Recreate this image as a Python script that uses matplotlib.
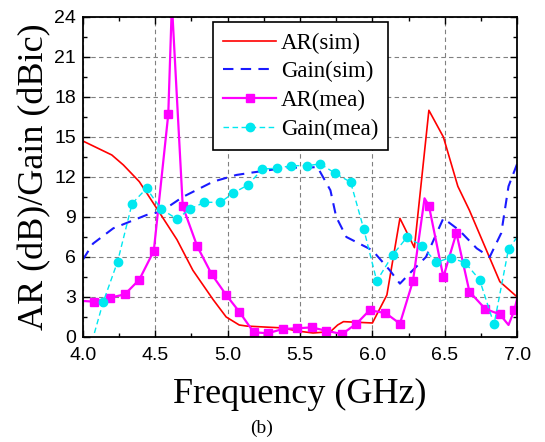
import numpy as np
import matplotlib
matplotlib.use("Agg")
import matplotlib.pyplot as plt
from matplotlib.ticker import MultipleLocator

# AR (sim), red solid
ar_sim_f = [4.0, 4.2, 4.28, 4.39, 4.54, 4.65, 4.76, 4.9, 4.99, 5.08, 5.13, 5.25, 5.38, 5.48, 5.59, 5.71, 5.76, 5.8, 6.0, 6.1, 6.19, 6.29, 6.39, 6.49, 6.59, 6.67, 6.88, 7.0]
ar_sim = [14.7, 13.65, 12.9, 11.65, 9.15, 7.3, 5.0, 2.8, 1.5, 0.9, 0.82, 0.75, 0.68, 0.45, 0.3, 0.4, 0.9, 1.15, 1.05, 3.15, 8.9, 6.7, 17.0, 15.0, 11.3, 9.5, 4.15, 3.0]

# Gain (sim), blue dashed
gain_sim_f = [4.0, 4.07, 4.21, 4.44, 4.54, 4.69, 4.9, 5.06, 5.18, 5.41, 5.56, 5.62, 5.71, 5.75, 5.82, 5.91, 6.0, 6.12, 6.19, 6.26, 6.37, 6.49, 6.6, 6.72, 6.81, 6.89, 6.94, 7.0]
gain_sim = [5.8, 7.0, 8.15, 9.15, 9.4, 10.5, 11.65, 12.15, 12.35, 12.7, 12.7, 12.75, 11.0, 9.0, 7.5, 7.0, 6.5, 5.0, 4.0, 4.8, 6.0, 8.9, 8.0, 6.65, 6.0, 7.8, 11.3, 13.0]

# AR (mea), magenta squares
ar_mea_f = [4.0, 4.08, 4.19, 4.29, 4.39, 4.49, 4.59, 4.615, 4.69, 4.79, 4.89, 4.99, 5.08, 5.18, 5.28, 5.38, 5.48, 5.58, 5.68, 5.79, 5.89, 5.98, 6.09, 6.19, 6.28, 6.36, 6.39, 6.49, 6.58, 6.67, 6.78, 6.88, 6.94, 6.98, 7.0]
ar_mea = [2.7, 2.65, 2.95, 3.2, 4.3, 6.45, 16.7, 25.0, 9.8, 6.8, 4.7, 3.15, 1.9, 0.35, 0.28, 0.6, 0.65, 0.72, 0.47, 0.22, 1.0, 2.0, 1.8, 1.0, 4.2, 10.4, 9.85, 4.5, 7.8, 3.4, 2.1, 1.7, 0.9, 2.0, 2.9]
ar_mea_nomark = [0, 7, 25, 32, 34]

# Gain (mea), cyan circles
gain_mea_f = [4.08, 4.14, 4.24, 4.34, 4.44, 4.54, 4.65, 4.74, 4.84, 4.95, 5.04, 5.14, 5.24, 5.34, 5.44, 5.55, 5.64, 5.74, 5.85, 5.94, 6.03, 6.14, 6.24, 6.34, 6.44, 6.54, 6.64, 6.74, 6.84, 6.94, 7.0]
gain_mea = [0.3, 2.6, 5.65, 10.0, 11.15, 9.6, 8.85, 9.6, 10.1, 10.1, 10.8, 11.4, 12.6, 12.65, 12.85, 12.85, 12.98, 12.3, 11.6, 8.1, 4.2, 6.15, 7.5, 6.85, 5.6, 5.95, 5.57, 4.3, 0.95, 6.6, 7.5]
gain_mea_nomark = [0, 30]

serif = "Liberation Serif"
sans = "Liberation Sans"

fig = plt.figure(figsize=(5.45, 4.42), dpi=100)
ax = fig.add_axes([0.152, 0.2376, 0.797, 0.724])

ax.plot(ar_sim_f, ar_sim, color="red", lw=1.2, label="AR(sim)")
ax.plot(gain_sim_f, gain_sim, color="#1a1aff", lw=1.5, ls=(0, (5, 3.5)), label="Gain(sim)")
mk = [i for i in range(len(ar_mea_f)) if i not in ar_mea_nomark]
ax.plot(ar_mea_f, ar_mea, color="#ff00ff", lw=1.6, marker="s", ms=5.5, markevery=mk, label="AR(mea)")
mk2 = [i for i in range(len(gain_mea_f)) if i not in gain_mea_nomark]
ax.plot(gain_mea_f, gain_mea, color="#00e8f0", lw=1.0, ls=(0, (4, 2.5)), marker="o", ms=6, markevery=mk2, label="Gain(mea)")

ax.set_xlim(4.0, 7.0)
ax.set_ylim(0, 24)
ax.xaxis.set_major_locator(MultipleLocator(0.5))
ax.xaxis.set_minor_locator(MultipleLocator(0.25))
ax.yaxis.set_major_locator(MultipleLocator(3))
ax.yaxis.set_minor_locator(MultipleLocator(1.5))
ax.set_xticklabels(["%.1f" % v for v in ax.get_xticks()])
ax.tick_params(which="both", direction="in", top=True, right=True, width=1.0)
ax.tick_params(which="major", length=5, labelsize=14)
ax.tick_params(axis="x", which="major", pad=7)
ax.tick_params(axis="y", which="major", pad=5)
ax.tick_params(which="minor", length=3)
for lab in ax.get_xticklabels() + ax.get_yticklabels():
    lab.set_fontfamily(sans)
for s in ax.spines.values():
    s.set_linewidth(1.3)
ax.grid(True, which="major", color="#808080", ls=(0, (4, 3)), lw=0.8)

ax.set_xlabel("Frequency (GHz)", fontsize=26, fontfamily=serif, labelpad=10)
ax.set_ylabel("AR (dB)/Gain (dBic)", fontsize=26, fontfamily=serif, labelpad=2)

leg = ax.legend(loc="upper left", bbox_to_anchor=(0.30, 0.984), borderaxespad=0,
                prop={"family": serif, "size": 16.5}, fancybox=False, framealpha=1,
                edgecolor="black", handlelength=2.3, handletextpad=0.2,
                labelspacing=0.33, borderpad=0.45)
leg.get_frame().set_linewidth(1.2)

fig.text(0.48, 0.032, "(b)", ha="center", va="center", fontsize=14, fontfamily=serif)

plt.savefig("out.png", dpi=100)
